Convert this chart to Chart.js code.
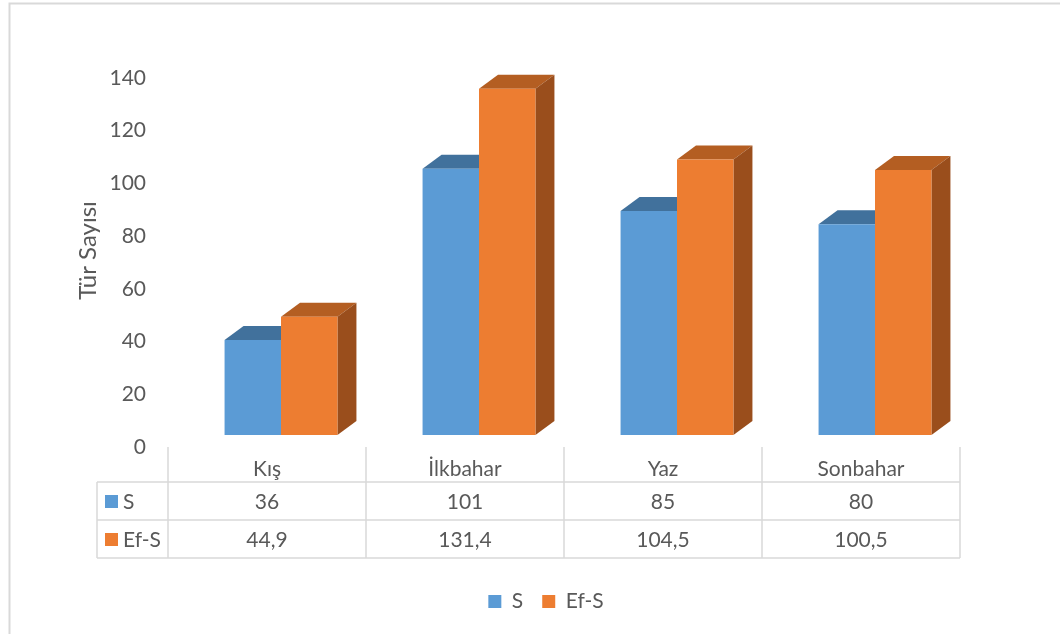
<!DOCTYPE html>
<html lang="tr">
<head>
<meta charset="utf-8">
<title>Tür Sayısı</title>
<script src="https://cdn.jsdelivr.net/npm/chart.js@4/dist/chart.umd.min.js"></script>
<style>
  html, body { margin: 0; padding: 0; background: #fff; overflow: hidden; }
  canvas { display: block; }
</style>
</head>
<body>
<canvas id="chart" width="1060" height="634"></canvas>
<script>
// ---------- data ----------
const categories = ['Kış', 'İlkbahar', 'Yaz', 'Sonbahar'];
const seriesS = [36, 101, 85, 80];
const seriesEfS = [44.9, 131.4, 104.5, 100.5];
const yTicks = [0, 20, 40, 60, 80, 100, 120, 140];

const TEXT = '#595959';
const GRID = '#d9d9d9';
const FONT = 'Lato, "Noto Sans", sans-serif';
const DEPTH_X = 19;
const DEPTH_Y = 14;

const fmt = (v) => String(v).replace('.', ',');

// ---------- background + outer frame ----------
const framePlugin = {
  id: 'frame',
  beforeDraw(chart) {
    const { ctx, width, height } = chart;
    ctx.save();
    ctx.fillStyle = '#fff';
    ctx.fillRect(0, 0, width, height);
    ctx.strokeStyle = GRID;
    ctx.lineWidth = 2;
    ctx.beginPath();
    ctx.moveTo(9.5, height);
    ctx.lineTo(9.5, 3.5);
    ctx.lineTo(width, 3.5);
    ctx.stroke();
    ctx.restore();
  }
};

// ---------- 3D top / side faces of the columns ----------
const bar3dPlugin = {
  id: 'bar3d',
  beforeDatasetsDraw(chart) {
    const { ctx } = chart;
    ctx.save();
    chart.data.datasets.forEach((ds, di) => {
      const meta = chart.getDatasetMeta(di);
      meta.data.forEach((el) => {
        const { x, y, base, width } = el.getProps(['x', 'y', 'base', 'width'], true);
        const l = x - width / 2;
        const r = x + width / 2;
        ctx.fillStyle = ds.topColor;
        ctx.beginPath();
        ctx.moveTo(l, y);
        ctx.lineTo(l + DEPTH_X, y - DEPTH_Y);
        ctx.lineTo(r + DEPTH_X, y - DEPTH_Y);
        ctx.lineTo(r, y);
        ctx.closePath();
        ctx.fill();
        ctx.fillStyle = ds.sideColor;
        ctx.beginPath();
        ctx.moveTo(r, y);
        ctx.lineTo(r + DEPTH_X, y - DEPTH_Y);
        ctx.lineTo(r + DEPTH_X, base - DEPTH_Y);
        ctx.lineTo(r, base);
        ctx.closePath();
        ctx.fill();
      });
    });
    ctx.restore();
  }
};

// ---------- data table under the plot ----------
const tablePlugin = {
  id: 'dataTable',
  afterDraw(chart) {
    const { ctx, chartArea, scales: { x } } = chart;
    const datasets = chart.data.datasets;
    const n = categories.length;
    const colW = chartArea.width / n;
    const shift = -14;
    const top = chartArea.bottom + 12;
    const headBottom = top + 35;
    const rowH = 38;
    const bottom = headBottom + rowH * datasets.length;
    const colLeft = (i) => x.getPixelForValue(i) - colW / 2 + shift;
    const left = colLeft(0);
    const right = colLeft(n - 1) + colW;
    const keyLeft = left - 71;

    ctx.save();
    ctx.strokeStyle = GRID;
    ctx.lineWidth = 1.5;
    ctx.beginPath();
    for (let r = 0; r <= datasets.length; r++) {
      const yy = headBottom + r * rowH;
      ctx.moveTo(keyLeft, yy);
      ctx.lineTo(right, yy);
    }
    for (let i = 0; i <= n; i++) {
      const xx = i === n ? right : colLeft(i);
      ctx.moveTo(xx, top);
      ctx.lineTo(xx, bottom);
    }
    ctx.moveTo(keyLeft, headBottom);
    ctx.lineTo(keyLeft, bottom);
    ctx.stroke();

    ctx.fillStyle = TEXT;
    ctx.font = '21px ' + FONT;
    ctx.textAlign = 'center';
    ctx.textBaseline = 'middle';
    categories.forEach((c, i) => {
      ctx.fillText(c, colLeft(i) + colW / 2, top + 22);
    });
    datasets.forEach((ds, r) => {
      const cy = headBottom + r * rowH + rowH / 2;
      ds.data.forEach((v, i) => {
        ctx.fillStyle = TEXT;
        ctx.textAlign = 'center';
        ctx.fillText(fmt(v), colLeft(i) + colW / 2, cy + 1);
      });
      ctx.fillStyle = ds.backgroundColor;
      ctx.fillRect(keyLeft + 8, cy - 6, 13, 13);
      ctx.fillStyle = TEXT;
      ctx.textAlign = 'left';
      ctx.fillText(ds.label, keyLeft + 26, cy + 1);
    });
    ctx.restore();
  }
};

new Chart(document.getElementById('chart'), {
  type: 'bar',
  data: {
    labels: categories,
    datasets: [
      { label: 'S', data: seriesS, backgroundColor: '#5b9bd5', topColor: '#41719c', sideColor: '#3a6794' },
      { label: 'Ef-S', data: seriesEfS, backgroundColor: '#ed7d31', topColor: '#b45e22', sideColor: '#9a4e1c' }
    ]
  },
  options: {
    responsive: false,
    animation: false,
    layout: { padding: { left: 60, right: 28, top: 66, bottom: 12 } },
    datasets: { bar: { categoryPercentage: 0.57, barPercentage: 1, borderWidth: 0 } },
    plugins: {
      legend: {
        position: 'bottom',
        labels: { boxWidth: 13, boxHeight: 13, padding: 19, color: TEXT, font: { family: FONT, size: 21 } }
      },
      tooltip: { enabled: false }
    },
    scales: {
      x: {
        display: true,
        grid: { display: false, drawTicks: false },
        border: { display: false },
        ticks: { display: false },
        afterFit: (s) => { s.height = 137; }
      },
      y: {
        min: 0,
        max: 140,
        afterBuildTicks: (s) => { s.ticks = yTicks.map((v) => ({ value: v })); },
        grid: { display: false, drawTicks: false },
        border: { display: false },
        ticks: { padding: 36, labelOffset: 12, color: TEXT, font: { family: FONT, size: 21 } },
        title: { display: true, text: 'Tür Sayısı', color: TEXT, font: { family: FONT, size: 24 }, padding: { top: 14, bottom: 0 } },
        afterFit: (s) => { s.width = 122; }
      },
      y2: {
        position: 'right',
        display: true,
        grid: { display: false, drawTicks: false },
        border: { display: false },
        ticks: { display: false },
        afterFit: (s) => { s.width = 58; }
      }
    }
  },
  plugins: [framePlugin, bar3dPlugin, tablePlugin]
});
</script>
</body>
</html>
